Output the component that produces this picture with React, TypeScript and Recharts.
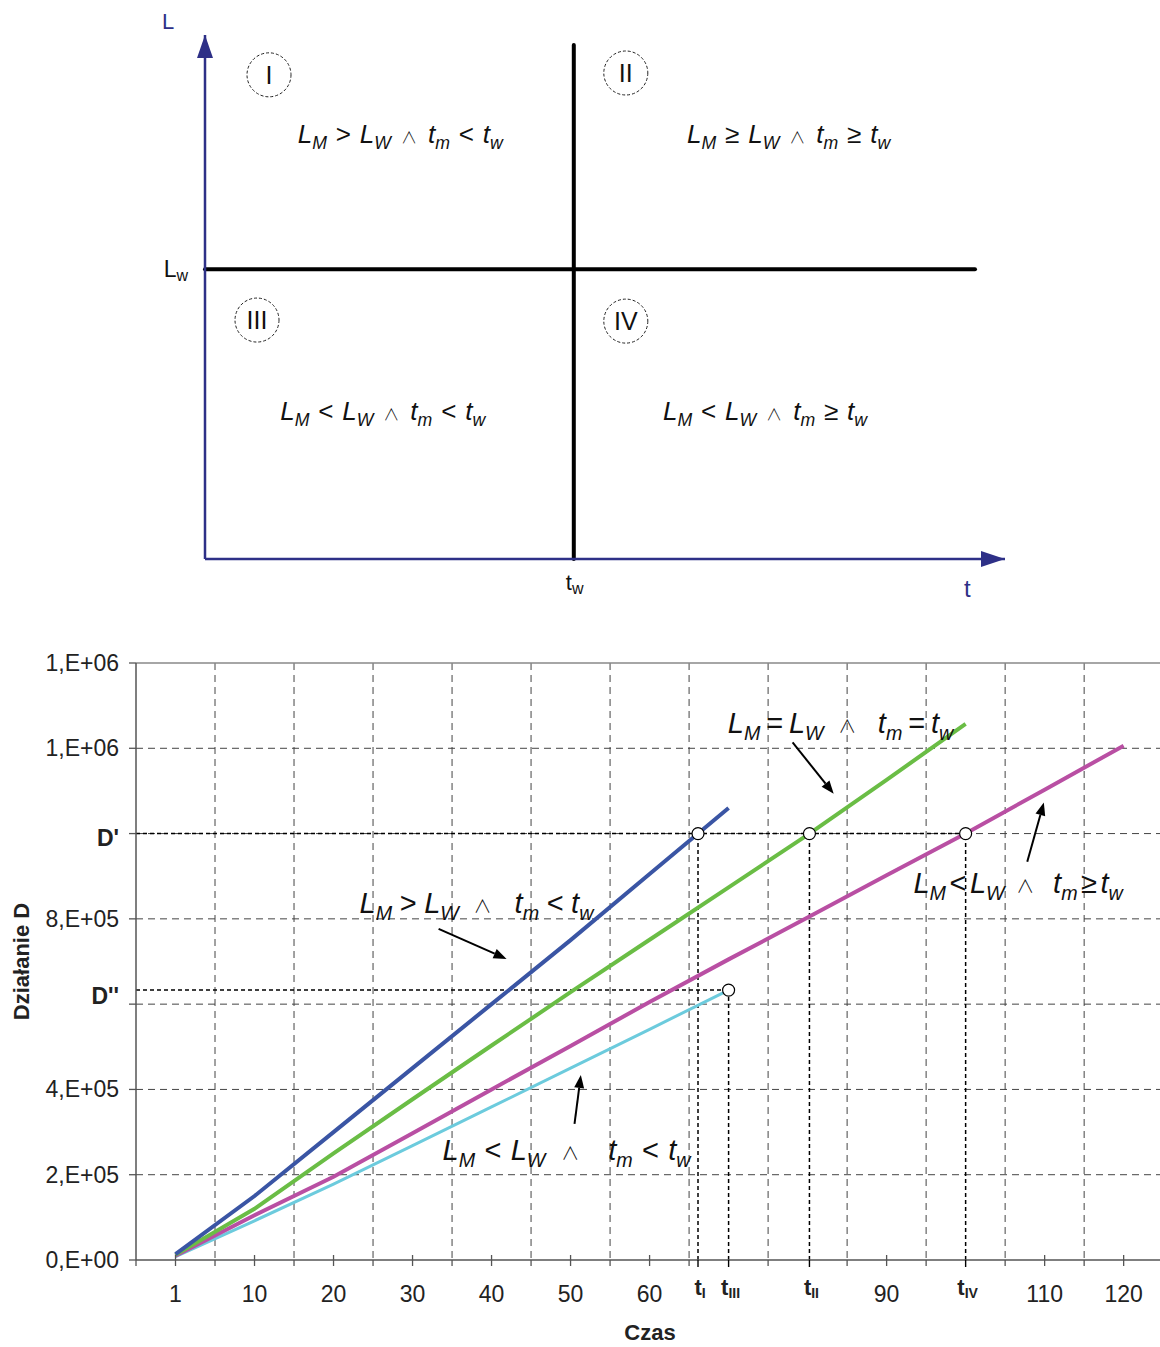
import React from "react";
import {
  CartesianGrid,
  ComposedChart,
  Label,
  Line,
  LineChart,
  ReferenceDot,
  ReferenceLine,
  Scatter,
  XAxis,
  YAxis,
} from "recharts";

const FONT = '"Liberation Sans", Arial, Helvetica, sans-serif';
const NAVY = "#2E3087";
const AX = "#555";

type Tok = string | [string, string];

// ---------- top diagram (quadrants) ----------
const tW = 46.1;
const lW = 55.3;
const quadrants = [
  { x: 8.0, y: 92.4, n: "I" },
  { x: 52.6, y: 92.75, n: "II" },
  { x: 6.5, y: 45.6, n: "III" },
  { x: 52.6, y: 45.4, n: "IV" },
];
const quadrantNotes: { x: number; y: number; f: Tok[] }[] = [
  { x: 11.6, y: 79.4, f: [["L", "M"], ">", ["L", "W"], "∧", ["t", "m"], "<", ["t", "w"]] },
  { x: 60.25, y: 79.4, f: [["L", "M"], "≥", ["L", "W"], "∧", ["t", "m"], "≥", ["t", "w"]] },
  { x: 9.4, y: 26.5, f: [["L", "M"], "<", ["L", "W"], "∧", ["t", "m"], "<", ["t", "w"]] },
  { x: 57.25, y: 26.5, f: [["L", "M"], "<", ["L", "W"], "∧", ["t", "m"], "≥", ["t", "w"]] },
];

// ---------- bottom chart (D over time) ----------
const categories = ["1", "10", "20", "30", "40", "50", "60", "70", "80", "90", "100", "110", "120"];
const hiddenCats = ["70", "80", "100"];
const blueD = [14000, 150000, 300000, 450000, 600000, 750000, 905000, 1060000];
const greenD = [12000, 120000, 250000, 377000, 503000, 628000, 751000, 874000, 997000, 1126000, 1257000];
const magentaD = [10000, 105000, 195000, 297000, 400000, 502000, 605000, 705000, 803000, 902000, 1000000, 1103000, 1206000];
const cyanD = [8000, 92000, 178000, 268000, 359000, 450000, 541000, 633000];

const yTicks = [0, 200000, 400000, 600000, 800000, 1000000, 1200000, 1400000];
const yLabels = ["0,E+00", "2,E+05", "4,E+05", "", "8,E+05", "1,E+06", "1,E+06", "1,E+06"];
const gridX = [0.5, 1.5, 2.5, 3.5, 4.5, 5.5, 6.5, 7.5, 8.5, 9.5, 10.5, 11.5];

const D1 = 1000000;
const D2 = cyanD[cyanD.length - 1];

function crossAt(vals: number[], level: number) {
  for (let k = 0; k < vals.length - 1; k++) {
    if (vals[k] <= level && vals[k + 1] >= level) return k + (level - vals[k]) / (vals[k + 1] - vals[k]);
  }
  return vals.length - 1;
}

const tI = crossAt(blueD, D1);
const tII = crossAt(greenD, D1);
const tIV = crossAt(magentaD, D1);
const tIII = cyanD.length - 1;
const specials = [
  { v: tI, sub: "I" },
  { v: tIII, sub: "III" },
  { v: tII, sub: "II" },
  { v: tIV, sub: "IV" },
];

const arrows = [
  [{ x: 3.33, y: 776600 }, { x: 4.19, y: 706000 }],
  [{ x: 7.81, y: 1213800 }, { x: 8.33, y: 1093400 }],
  [{ x: 10.78, y: 933800 }, { x: 10.99, y: 1073000 }],
  [{ x: 5.05, y: 319000 }, { x: 5.13, y: 434000 }],
];
const chartNotes: { x: number; y: number; f: Tok[] }[] = [
  { x: 2.33, y: 814000, f: [["L", "M"], ">", ["L", "W"], "∧", ["t", "m"], "<", ["t", "w"]] },
  { x: 6.99, y: 1236000, f: [["L", "M"], "=", ["L", "W"], "∧", ["t", "m"], "=", ["t", "w"]] },
  { x: 9.34, y: 861000, f: [["L", "M"], "<", ["L", "W"], "∧", ["t", "m"], "≥", ["t", "w"]] },
  { x: 3.38, y: 234600, f: [["L", "M"], "<", ["L", "W"], "∧", ["t", "m"], "<", ["t", "w"]] },
];
// spacing (in em) around operators, before and after the "and" sign, per note
const noteSpacing: [number, number, number][] = [
  [0.26, 0.5, 0.8],
  [0.2, 0.5, 0.75],
  [0.12, 0.4, 0.65],
  [0.32, 0.55, 1.0],
];

const rows = categories.map((c, i) => ({
  i,
  cat: c,
  blue: blueD[i],
  green: greenD[i],
  magenta: magentaD[i],
  cyan: cyanD[i],
}));

const xTicks = [
  -0.5,
  ...gridX,
  ...categories.map((c, i) => (hiddenCats.includes(c) ? null : i)).filter((v) => v !== null),
  ...specials.map((s) => s.v),
].sort((a, b) => (a as number) - (b as number)) as number[];

function Formula({ x, y, size, toks, gaps }: { x: number; y: number; size: number; toks: Tok[]; gaps: [number, number, number] }) {
  const sh = size * 0.24;
  const out: React.ReactNode[] = [];
  let down = false;
  let afterAnd = false;
  toks.forEach((t, i) => {
    const back = down ? -sh : 0;
    if (Array.isArray(t)) {
      const dx = i === 0 ? 0 : afterAnd ? size * gaps[2] : size * gaps[0];
      out.push(
        <tspan key={i + "m"} dx={dx} dy={back} fontStyle="italic">
          {t[0]}
        </tspan>
      );
      out.push(
        <tspan key={i + "s"} dy={sh} fontSize={size * 0.68} fontStyle="italic">
          {t[1]}
        </tspan>
      );
      down = true;
      afterAnd = false;
    } else if (t === "∧") {
      out.push(
        <tspan key={i} dx={size * gaps[1]} dy={back} fontSize={size * 0.62} fontFamily="'Noto Sans CJK JP', sans-serif" fontWeight={300}>
          ∧
        </tspan>
      );
      down = false;
      afterAnd = true;
    } else {
      out.push(
        <tspan key={i} dx={size * gaps[0]} dy={back}>
          {t}
        </tspan>
      );
      down = false;
      afterAnd = false;
    }
  });
  return (
    <text x={x} y={y} fontSize={size} fill="#111" fontFamily={FONT}>
      {out}
    </text>
  );
}

const ArrowUp = (p: any) => (
  <g>
    <polygon points={`${p.cx},${p.cy} ${p.cx - 8},${p.cy + 23} ${p.cx + 8},${p.cy + 23}`} fill={NAVY} />
    <text x={p.cx - 43} y={p.cy - 6} fontSize={22} fill={NAVY} fontFamily={FONT}>
      L
    </text>
  </g>
);

const ArrowRight = (p: any) => (
  <g>
    <polygon points={`${p.cx},${p.cy} ${p.cx - 24},${p.cy - 8} ${p.cx - 24},${p.cy + 8}`} fill={NAVY} />
    <text x={p.cx - 41} y={p.cy + 38} fontSize={24} fill={NAVY} fontFamily={FONT}>
      t
    </text>
  </g>
);

const Numeral = (p: any) => (
  <g>
    <circle cx={p.cx} cy={p.cy} r={22} fill="none" stroke="#222" strokeWidth={1} strokeDasharray="3 2" />
    <text x={p.cx} y={p.cy + 9} textAnchor="middle" fontSize={25} fill="#111" fontFamily={FONT}>
      {p.payload.n}
    </text>
  </g>
);

const TwTick = (p: any) => (
  <text x={p.x - 8} y={p.y + 31} fontSize={22} fill="#111" fontFamily={FONT}>
    t
    <tspan fontSize={16} dy={4}>
      w
    </tspan>
  </text>
);

const LwTick = (p: any) => (
  <text x={p.x} y={p.y + 8} textAnchor="end" fontSize={23} fill="#111" fontFamily={FONT}>
    L
    <tspan fontSize={16} dy={4}>
      w
    </tspan>
  </text>
);

function Quadrants() {
  return (
    <ComposedChart width={1160} height={615} margin={{ top: 35, right: 155, bottom: 0, left: 0 }}>
      <XAxis
        type="number"
        dataKey="x"
        domain={[0, 100]}
        ticks={[tW]}
        interval={0}
        height={56}
        axisLine={{ stroke: NAVY, strokeWidth: 2.5 }}
        tickLine={false}
        tickSize={0}
        tickMargin={0}
        tick={TwTick}
      />
      <YAxis
        type="number"
        dataKey="y"
        domain={[0, 100]}
        ticks={[lW]}
        interval={0}
        width={205}
        axisLine={{ stroke: NAVY, strokeWidth: 2.5 }}
        tickLine={false}
        tickSize={0}
        tickMargin={17}
        tick={LwTick}
      />
      <ReferenceLine segment={[{ x: tW, y: 0 }, { x: tW, y: 98.1 }]} stroke="#000" strokeWidth={4} strokeLinecap="round" />
      <ReferenceLine segment={[{ x: 0, y: lW }, { x: 96.25, y: lW }]} stroke="#000" strokeWidth={4} strokeLinecap="round" />
      <ReferenceDot x={0} y={100} ifOverflow="visible" shape={ArrowUp} />
      <ReferenceDot x={100} y={0} ifOverflow="visible" shape={ArrowRight} />
      <Scatter data={quadrants} shape={Numeral} isAnimationActive={false} />
      {quadrantNotes.map((n, k) => (
        <ReferenceDot
          key={k}
          x={n.x}
          y={n.y}
          ifOverflow="visible"
          shape={(p: any) => <Formula x={p.cx} y={p.cy} size={26} toks={n.f} gaps={[0.34, 0.38, 0.42]} />}
        />
      ))}
    </ComposedChart>
  );
}

const YTick = (p: any) => {
  const v = p.payload.value;
  const idx = yTicks.indexOf(v);
  let lab = idx >= 0 ? yLabels[idx] : "";
  let dy = 8;
  let bold = false;
  if (v === D1) {
    lab = "D'";
    dy = 12;
    bold = true;
  } else if (v === D2) {
    lab = "D''";
    dy = 14;
    bold = true;
  }
  return (
    <g>
      {v !== D2 && <line x1={p.x + 10} x2={p.x + 17} y1={p.y} y2={p.y} stroke={AX} strokeWidth={1.3} />}
      <text x={p.x} y={p.y + dy} textAnchor="end" fontSize={23} fontWeight={bold ? "bold" : "normal"} fill="#222" fontFamily={FONT}>
        {lab}
      </text>
    </g>
  );
};

const XTick = (p: any) => {
  const v = p.payload.value;
  const sp = specials.find((s) => Math.abs(s.v - v) < 1e-9);
  if (sp) {
    return (
      <g>
        <line x1={p.x} x2={p.x} y1={p.y - 6} y2={p.y + 1} stroke="#000" strokeWidth={1.4} />
        <text x={p.x + 2} y={p.y + 29} textAnchor="middle" fontSize={22} fontWeight="bold" fill="#222" fontFamily={FONT}>
          t
          <tspan fontSize={14} dy={3}>
            {sp.sub}
          </tspan>
        </text>
      </g>
    );
  }
  if (Number.isInteger(v)) {
    return (
      <g>
        <line x1={p.x} x2={p.x} y1={p.y - 11} y2={p.y} stroke={AX} strokeWidth={1.3} />
        <text x={p.x} y={p.y + 36} textAnchor="middle" fontSize={23} fill="#222" fontFamily={FONT}>
          {categories[v]}
        </text>
      </g>
    );
  }
  return <line x1={p.x} x2={p.x} y1={p.y - 6} y2={p.y} stroke={AX} strokeWidth={1.3} />;
};

const ArrowLine = (p: any) => {
  const { x1, y1, x2, y2 } = p;
  const a = Math.atan2(y2 - y1, x2 - x1);
  const L = 13;
  const W = 5;
  const bx = x2 - L * Math.cos(a);
  const by = y2 - L * Math.sin(a);
  const nx = -Math.sin(a) * W;
  const ny = Math.cos(a) * W;
  return (
    <g>
      <line x1={x1} y1={y1} x2={bx} y2={by} stroke="#000" strokeWidth={2} />
      <polygon points={`${x2},${y2} ${bx + nx},${by + ny} ${bx - nx},${by - ny}`} fill="#000" />
    </g>
  );
};

const XTitle = (p: any) => {
  const { x, y, width } = p.viewBox;
  return (
    <text x={x + width / 2 + 2} y={y + 80} textAnchor="middle" fontSize={22} fontWeight="bold" fill="#222" fontFamily={FONT}>
      Czas
    </text>
  );
};

const YTitle = (p: any) => {
  const { x, y, height } = p.viewBox;
  const cx = x + 21;
  const cy = y + height / 2;
  return (
    <text
      x={cx}
      y={cy}
      transform={`rotate(-90 ${cx} ${cy})`}
      textAnchor="middle"
      dominantBaseline="central"
      fontSize={22}
      fontWeight="bold"
      fill="#222"
      fontFamily={FONT}
    >
      Działanie D
    </text>
  );
};

const dash = { stroke: "#000", strokeWidth: 1.5, strokeDasharray: "4 3" };

function DoseChart() {
  return (
    <LineChart width={1160} height={727} data={rows} margin={{ top: 43, right: 0, bottom: 0, left: 0 }}>
      <CartesianGrid stroke="#444" strokeDasharray="7 5" horizontalValues={[200000, 400000, 600000, 800000, 1000000, 1200000]} verticalValues={gridX} />
      <XAxis
        type="number"
        dataKey="i"
        domain={[-0.5, 12.46]}
        ticks={xTicks}
        interval={0}
        height={87}
        axisLine={{ stroke: AX, strokeWidth: 1.5 }}
        tickLine={false}
        tickSize={6}
        tickMargin={0}
        tick={XTick}
        allowDataOverflow
      >
        <Label content={XTitle} />
      </XAxis>
      <YAxis
        type="number"
        domain={[0, 1400000]}
        ticks={[...yTicks, D2].sort((a, b) => a - b)}
        interval={0}
        width={136}
        axisLine={{ stroke: AX, strokeWidth: 1.5 }}
        tickLine={false}
        tickSize={7}
        tickMargin={10}
        tick={YTick}
        allowDataOverflow
      >
        <Label content={YTitle} />
      </YAxis>
      <ReferenceLine y={1400000} stroke="#888" strokeWidth={1.5} />
      <ReferenceLine segment={[{ x: -0.5, y: D1 }, { x: tIV, y: D1 }]} {...dash} />
      <ReferenceLine segment={[{ x: -0.5, y: D2 }, { x: tIII, y: D2 }]} {...dash} />
      {specials.map((s) => (
        <ReferenceLine key={s.sub} segment={[{ x: s.v, y: 0 }, { x: s.v, y: s.sub === "III" ? D2 : D1 }]} {...dash} />
      ))}
      <Line type="linear" dataKey="cyan" stroke="#6CCBDD" strokeWidth={3} dot={false} isAnimationActive={false} />
      <Line type="linear" dataKey="magenta" stroke="#B94FA3" strokeWidth={4} dot={false} isAnimationActive={false} />
      <Line type="linear" dataKey="green" stroke="#6ABD45" strokeWidth={4} dot={false} isAnimationActive={false} />
      <Line type="linear" dataKey="blue" stroke="#3A55A4" strokeWidth={4} dot={false} isAnimationActive={false} />
      {specials.map((s) => (
        <ReferenceDot key={s.sub} x={s.v} y={s.sub === "III" ? D2 : D1} r={6} fill="#fff" stroke="#000" strokeWidth={1.2} />
      ))}
      {arrows.map((seg, k) => (
        <ReferenceLine key={"a" + k} segment={seg} shape={ArrowLine} />
      ))}
      {chartNotes.map((n, k) => (
        <ReferenceDot
          key={"n" + k}
          x={n.x}
          y={n.y}
          ifOverflow="visible"
          shape={(p: any) => <Formula x={p.cx} y={p.cy} size={29} toks={n.f} gaps={noteSpacing[k]} />}
        />
      ))}
    </LineChart>
  );
}

export default function App() {
  return (
    <div style={{ position: "absolute", left: 0, top: 0, width: 1160, height: 1347, background: "#fff", fontFamily: FONT, overflow: "hidden" }}>
      <div style={{ position: "absolute", left: 0, top: 0 }}>
        <Quadrants />
      </div>
      <div style={{ position: "absolute", left: 0, top: 620 }}>
        <DoseChart />
      </div>
    </div>
  );
}
